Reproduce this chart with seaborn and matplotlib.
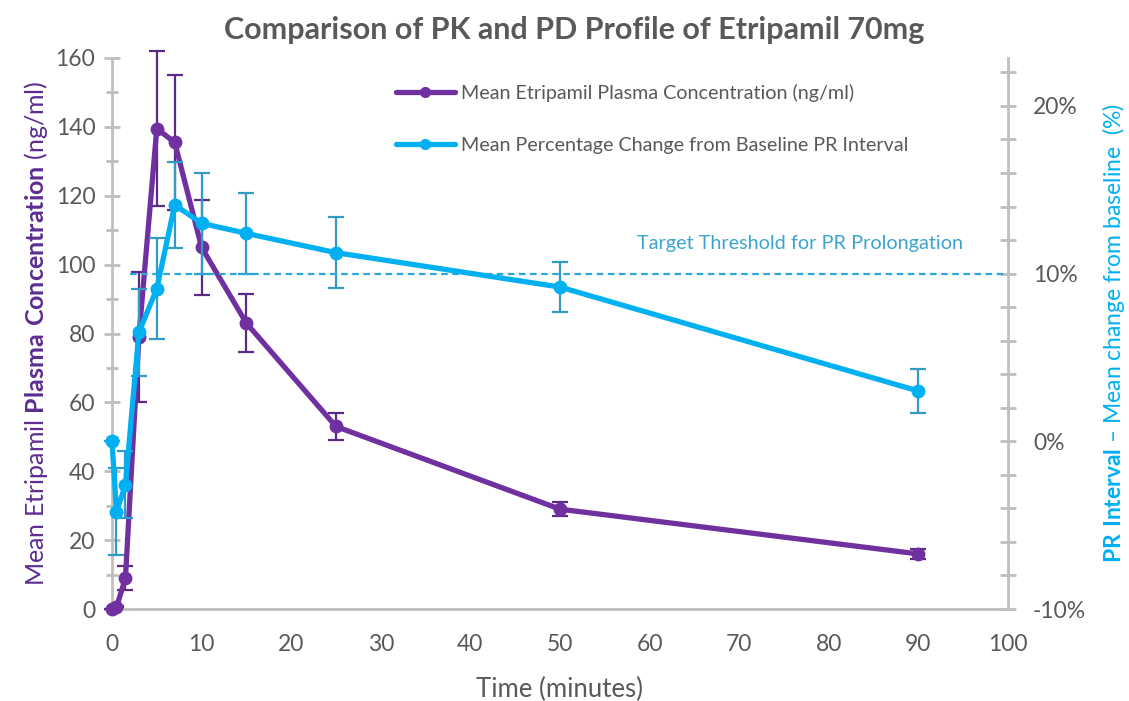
import numpy as np
import pandas as pd
import seaborn as sns
import matplotlib.pyplot as plt
from matplotlib.lines import Line2D
from matplotlib.ticker import MultipleLocator, FuncFormatter

# Data
time_min = [0, 0.5, 1.5, 3, 5, 7, 10, 15, 25, 50, 90]
pk_mean = [0, 0.5, 9, 79, 139.5, 135.5, 105, 83, 53, 29, 16]
pk_err = [0, 0.3, 3.4, 19, 22.5, 19.5, 13.7, 8.5, 4, 2, 1.5]
pd_mean = [0, -4.2, -2.6, 6.5, 9.1, 14.1, 13.0, 12.4, 11.25, 9.2, 3.0]
pd_err = [0, 2.6, 2.0, 2.6, 3.0, 2.55, 3.0, 2.4, 2.1, 1.5, 1.3]
threshold = 10

pk_label = "Mean Etripamil Plasma Concentration (ng/ml)"
pd_label = "Mean Percentage Change from Baseline PR Interval"

df = pd.DataFrame({"time": time_min, "pk": pk_mean, "pk_err": pk_err,
                   "pd": pd_mean, "pd_err": pd_err})

sns.set_theme(style="white")
plt.rcParams["font.family"] = ["Lato", "DejaVu Sans"]
plt.rcParams["mathtext.fontset"] = "custom"
plt.rcParams["mathtext.rm"] = "Lato"
plt.rcParams["mathtext.bf"] = "Lato:bold"
plt.rcParams["axes.unicode_minus"] = False

purple = "#7030A0"
purple_err = "#5B2A86"
cyan = "#00B0F0"
cyan_err = "#2E9BC9"
grey_txt = "#595959"
grey_axis = "#BFBFBF"

fig = plt.figure(figsize=(11.29, 7.01), dpi=100)
ax = fig.add_axes([0.0992, 0.1312, 0.7936, 0.7861])
ax2 = ax.twinx()

# PK series (left axis)
ax.errorbar(df["time"], df["pk"], yerr=df["pk_err"], fmt="none",
            ecolor=purple_err, elinewidth=1.6, capsize=6, capthick=1.6,
            zorder=2, clip_on=False)
sns.lineplot(data=df, x="time", y="pk", ax=ax, color=purple, linewidth=3.8,
             marker="o", markersize=10, markeredgewidth=0, zorder=3, clip_on=False)

# PD series (right axis)
ax2.errorbar(df["time"], df["pd"], yerr=df["pd_err"], fmt="none",
             ecolor=cyan_err, elinewidth=1.6, capsize=6, capthick=1.6,
             zorder=2, clip_on=False)
sns.lineplot(data=df, x="time", y="pd", ax=ax2, color=cyan, linewidth=3.8,
             marker="o", markersize=10, markeredgewidth=0, zorder=3, clip_on=False)

# threshold line
ax2.hlines(threshold, 2, 100, colors="#2EA7D8", linestyles=(0, (3, 2)), linewidth=1.6)
ax2.text(76.8, 11.8, "Target Threshold for PR Prolongation", color="#3BA3D0",
         fontsize=14.3, ha="center", va="center")

# axes limits / ticks
ax.set_xlim(0, 100)
ax.set_ylim(0, 160)
ax2.set_ylim(-10, 22.86)
ax.xaxis.set_major_locator(MultipleLocator(10))
ax.yaxis.set_major_locator(MultipleLocator(20))
ax.yaxis.set_minor_locator(MultipleLocator(10))
ax2.yaxis.set_major_locator(MultipleLocator(10))
ax2.yaxis.set_minor_locator(MultipleLocator(2))
ax2.yaxis.set_major_formatter(FuncFormatter(lambda v, p: f"{v:.0f}%"))

for a in (ax, ax2):
    for s in a.spines.values():
        s.set_visible(False)
    a.set_xlabel("")
    a.set_ylabel("")
ax.spines["left"].set_visible(True)
ax.spines["bottom"].set_visible(True)
ax2.spines["right"].set_visible(True)
for s in (ax.spines["left"], ax.spines["bottom"], ax2.spines["right"]):
    s.set_color(grey_axis)
    s.set_linewidth(2)

ax.tick_params(axis="x", length=0, labelsize=16.5, labelcolor=grey_txt, pad=18)
ax.tick_params(axis="y", which="major", direction="inout", length=12, width=2,
               color=grey_axis, labelsize=16.5, labelcolor=grey_txt, pad=6)
ax.tick_params(axis="y", which="minor", direction="inout", length=9, width=2,
               color=grey_axis)
ax2.tick_params(axis="y", which="major", direction="inout", length=12, width=2,
                color=grey_axis, labelsize=16.5, labelcolor=grey_txt, pad=12)
ax2.tick_params(axis="y", which="minor", direction="inout", length=12, width=2,
                color=grey_axis)

ax.set_xlabel("Time (minutes)", fontsize=18.5, color=grey_txt, labelpad=16)
ax.set_ylabel(r"Mean Etripamil $\mathbf{Plasma\ Concentration}$ (ng/ml)",
              fontsize=18, color="#5C2D91", labelpad=4)
ax2.set_ylabel(r"$\mathbf{PR\ Interval}$ – Mean change from baseline  (%)",
               fontsize=16.5, color=cyan, labelpad=10)

fig.text(0.509, 0.957, "Comparison of PK and PD Profile of Etripamil 70mg",
         fontsize=22, fontweight="bold", color=grey_txt, ha="center", va="center")

handles = [Line2D([], [], color=purple, lw=3.8, marker="o", markersize=7),
           Line2D([], [], color=cyan, lw=3.8, marker="o", markersize=7)]
ax2.legend(handles, [pk_label, pd_label], loc="upper left",
           bbox_to_anchor=(0.297, 0.985), frameon=False, fontsize=14.2,
           labelcolor=grey_txt, handlelength=3.0, handletextpad=0.3,
           labelspacing=1.75)

fig.savefig("out.png", dpi=100)
